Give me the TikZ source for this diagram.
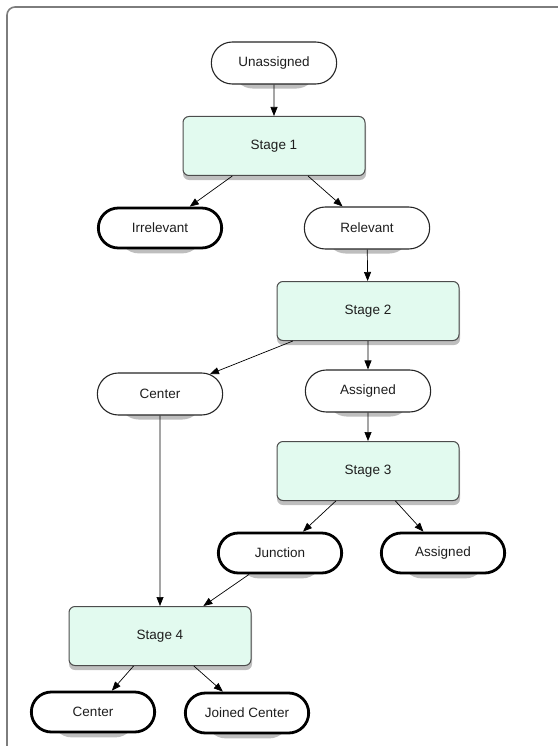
\documentclass[tikz,border=0pt]{standalone}
\usepackage{fontspec}
\setmainfont{Liberation Sans}
\usetikzlibrary{arrows.meta,shapes.misc,backgrounds}

\definecolor{stagefill}{RGB}{226,250,239}
\definecolor{framegray}{RGB}{125,125,125}
\definecolor{textgray}{RGB}{30,30,30}
\definecolor{shadowgray}{RGB}{110,110,110}

\begin{document}
\begin{tikzpicture}[x = 1pt, y = -1pt]

    \useasboundingbox (0, 0) rectangle (557, 746);

    \tikzset{stagestyle/.style={draw=black!70, fill=stagefill, rounded corners=6pt, line width=1pt,
                                minimum width=182pt, minimum height=59pt, text=textgray,
                                font=\fontsize{13.5}{16}\selectfont}}
    \tikzset{statestyle/.style={draw=black!85, fill=white, shape=rounded rectangle, line width=1.1pt,
                                minimum width=132pt, minimum height=42pt, text=textgray,
                                font=\fontsize{13.5}{16}\selectfont}}
    \tikzset{finalstyle/.style={statestyle, draw=black, line width=2.8pt, minimum width=130pt, minimum height=40pt}}
    \tikzset{shadowstyle/.style={fill=shadowgray, opacity=0.45}}

    \node[statestyle] (un) at ( 274, 63) {Unassigned};
    \node[stagestyle] (s1) at ( 274, 146) {Stage 1};
    \node[finalstyle] (irr) at ( 160, 228) {Irrelevant};
    \node[statestyle] (rel) at ( 367, 228) {Relevant};

    \node[stagestyle] (s2) at ( 368, 311) {Stage 2};
    \node[statestyle] (cen) at ( 160, 394) {Center};
    \node[statestyle] (asg) at ( 368, 391) {Assigned};

    \node[stagestyle] (s3) at ( 368, 471) {Stage 3};
    \node[finalstyle] (jun) at ( 280, 553) {Junction};
    \node[finalstyle] (asg2) at ( 443, 553) {Assigned};

    \node[stagestyle] (s4) at ( 160, 636) {Stage 4};
    \node[finalstyle] (cen2) at ( 93, 712) {Center};
    \node[finalstyle] (jc) at ( 247, 713) {Joined Center};

    % shadows under the boxes
    \begin{pgfonlayer}{background}
        \foreach \n in {un, irr, rel, cen, asg, jun, asg2, cen2, jc}
            \fill[shadowstyle, rounded corners=20pt] ([shift={(0.5, 4)}]\n.south west) rectangle ([shift={(0.5, 4)}]\n.north east);
        \foreach \n in {s1, s2, s3, s4}
            \fill[shadowstyle, rounded corners=6pt] ([shift={(0.5, 4)}]\n.south west) rectangle ([shift={(0.5, 4)}]\n.north east);
    \end{pgfonlayer}

    \begin{scope}[every path/.style={-{Triangle[length=9pt,width=7pt]}, line width=0.7pt}]
        \draw (un) -- (s1);
        \draw (s1) -- (irr);
        \draw (s1) -- (rel);

        \draw (rel) -- (s2);
        \draw (s2) -- (cen);
        \draw (s2) -- (asg);
        \draw (asg) -- (s3);

        \draw (s3) -- (jun);
        \draw (s3) -- (asg2);

        \draw (cen) -- (s4);
        \draw (jun) -- (s4);
        \draw (s4) -- (cen2);
        \draw (s4) -- (jc);
    \end{scope}

    \draw[framegray, line width = 1.6pt, rounded corners = 8pt] (7, 760) -- (7, 7) -- (570, 7);

\end{tikzpicture}
\end{document}
